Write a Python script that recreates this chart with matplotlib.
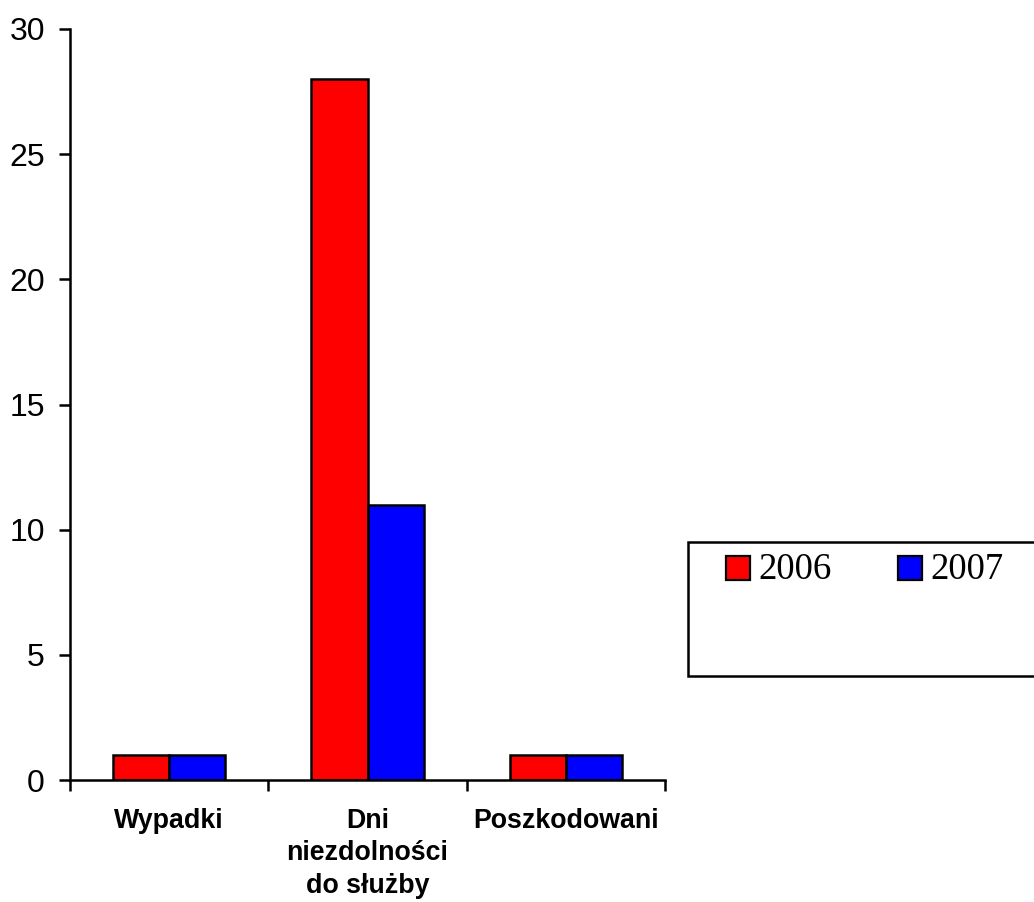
import matplotlib
matplotlib.use("Agg")
import matplotlib.pyplot as plt
from matplotlib.patches import Rectangle
import numpy as np

categories = ["Wypadki", "Dni\nniezdolności\ndo służby", "Poszkodowani"]
series_names = ["2006", "2007"]
values_2006 = [1, 28, 1]
values_2007 = [1, 11, 1]
colors = ["#ff0000", "#0000ff"]

W, H = 1034, 902
fig = plt.figure(figsize=(W / 100, H / 100), dpi=100)
ax = fig.add_axes([70 / W, 1 - 780 / H, (665 - 70) / W, (780 - 29) / H])

centers = np.arange(len(categories)) + 0.5
bw = 0.283
ax.bar(centers - bw / 2, values_2006, width=bw, color=colors[0], edgecolor="black", linewidth=1.8)
ax.bar(centers + bw / 2, values_2007, width=bw, color=colors[1], edgecolor="black", linewidth=1.8)

ax.set_xlim(0, len(categories))
ax.set_ylim(0, 30)
ax.set_yticks(np.arange(0, 31, 5))
ax.tick_params(axis="y", direction="out", length=8, width=1.8, labelsize=23, pad=10)
for t in ax.get_yticklabels():
    t.set_fontfamily("Liberation Sans")

ax.set_xticks(np.arange(0, len(categories) + 1))
ax.set_xticklabels([])
ax.set_xticks(centers, minor=True)
ax.set_xticklabels(categories, minor=True, fontsize=19.3, fontweight="bold",
                   fontfamily="Liberation Sans", linespacing=1.33)
ax.tick_params(axis="x", which="major", direction="out", length=8, width=1.8)
ax.tick_params(axis="x", which="minor", length=0, pad=20)

for s in ["top", "right"]:
    ax.spines[s].set_visible(False)
for s in ["left", "bottom"]:
    ax.spines[s].set_linewidth(1.8)

# legend box
lx0, ly0, lx1, ly1 = 688, 542, 1045, 676
fig.patches.append(Rectangle((lx0 / W, 1 - ly1 / H), (lx1 - lx0) / W, (ly1 - ly0) / H,
                             transform=fig.transFigure, facecolor="white",
                             edgecolor="black", linewidth=1.8))
entries = [(726, series_names[0], colors[0]), (898, series_names[1], colors[1])]
for x0, name, c in entries:
    fig.patches.append(Rectangle((x0 / W, 1 - 580 / H), 24 / W, 24 / H,
                                 transform=fig.transFigure, facecolor=c,
                                 edgecolor="black", linewidth=1.6))
    fig.text((x0 + 32) / W, 1 - 570 / H, name, fontsize=26.5, fontfamily="Liberation Serif",
             va="center", ha="left")

fig.savefig("out.png", dpi=100)
